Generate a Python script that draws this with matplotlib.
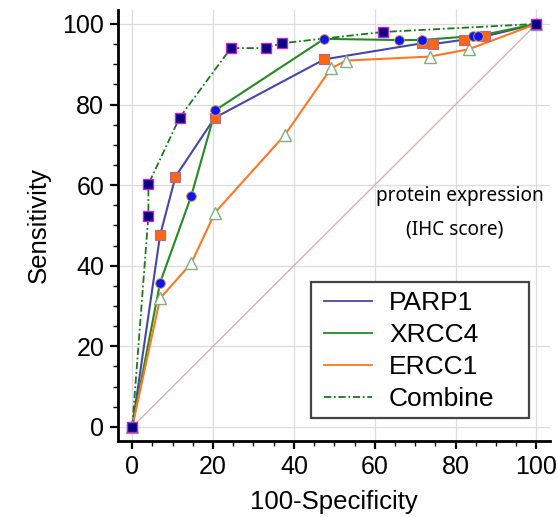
import matplotlib
matplotlib.use("Agg")
import matplotlib.pyplot as plt
from matplotlib.patches import Rectangle
from matplotlib.ticker import MultipleLocator

# ROC points (100-Specificity, Sensitivity)
parp1_x = [0, 6.9, 10.7, 20.4, 47.5, 71.7, 74.4, 82.2, 87.2, 100]
parp1_y = [0, 47.6, 62.1, 76.7, 91.2, 95.2, 95.0, 96.1, 96.9, 100]

xrcc4_x = [0, 6.9, 14.6, 20.6, 47.5, 65.9, 71.7, 84.3, 85.5, 100]
xrcc4_y = [0, 35.8, 57.3, 78.6, 96.3, 96.0, 96.0, 97.0, 97.0, 100]

ercc1_x = [0, 6.9, 14.6, 20.5, 37.8, 49.2, 53.0, 73.6, 83.2, 100]
ercc1_y = [0, 31.9, 40.6, 53.2, 72.5, 89.0, 90.9, 91.9, 93.7, 100]

combine_x = [0, 4.0, 4.0, 11.7, 24.4, 33.0, 37.0, 62.0, 100]
combine_y = [0, 52.4, 60.2, 76.7, 94.0, 94.0, 95.2, 98.0, 100]

ticks = [0, 20, 40, 60, 80, 100]

plt.rcParams['font.family'] = ['Liberation Sans', 'DejaVu Sans']

fig = plt.figure(figsize=(5.57, 5.17), dpi=100)
ax = fig.add_axes([0.212, 0.147, 0.775, 0.834])

ax.plot([0, 100], [0, 100], color='#d9a8a8', lw=0.9, zorder=1)

ax.plot(parp1_x, parp1_y, color='#4646aa', lw=1.5, label='PARP1', zorder=2)
ax.plot(xrcc4_x, xrcc4_y, color='#228b22', lw=1.5, label='XRCC4', zorder=2)
ax.plot(ercc1_x, ercc1_y, color='#ff7722', lw=1.5, label='ERCC1', zorder=2)
ax.plot(combine_x, combine_y, color='#1a7a1a', lw=1.3, ls=(0, (4, 1.5, 1, 1.5)),
        label='Combine', zorder=2)

# markers
ax.plot(ercc1_x, ercc1_y, ls='none', marker='^', ms=9, mfc='white', mec='#7fb27f',
        mew=1.0, zorder=3)
ax.plot(parp1_x, parp1_y, ls='none', marker='s', ms=7, mfc='#ff6610', mec='#b06a8a',
        mew=0.8, zorder=4)
ax.plot(xrcc4_x, xrcc4_y, ls='none', marker='o', ms=7, mfc='#0a14ff', mec='#d8a030',
        mew=0.7, zorder=5)
ax.plot(combine_x, combine_y, ls='none', marker='s', ms=7, mfc='#000080', mec='#d020d0',
        mew=1.0, zorder=6)

ax.set_xlim(-3.5, 103.3)
ax.set_ylim(-3.5, 103.5)
ax.set_xticks(ticks)
ax.set_yticks(ticks)
ax.xaxis.set_minor_locator(MultipleLocator(5))
ax.yaxis.set_minor_locator(MultipleLocator(5))
ax.tick_params(which='major', direction='out', length=6, width=1.6, labelsize=18, pad=4)
ax.tick_params(which='minor', direction='out', length=3.5, width=1.0)
ax.grid(True, which='major', color='#dcdcdc', lw=0.9)
ax.set_axisbelow(True)

for s in ['top', 'right']:
    ax.spines[s].set_visible(False)
for s in ['left', 'bottom']:
    ax.spines[s].set_linewidth(2.0)

ax.set_xlabel('100-Specificity', fontsize=18.5, labelpad=8)
ax.set_ylabel('Sensitivity', fontsize=18.5, labelpad=8)

ax.text(81.0, 57.3, 'protein expression', fontsize=13.7, family='Noto Sans',
        ha='center', va='center')
ax.text(79.8, 48.9, '(IHC score)', fontsize=13.7, family='Noto Sans',
        ha='center', va='center')

# legend box drawn separately so it can be wider than its entries
ax.add_patch(Rectangle((0.446, 0.053), 0.505, 0.316, transform=ax.transAxes,
                       facecolor='white', edgecolor='#444444', lw=1.6, zorder=7))
leg = ax.legend(loc='upper left', bbox_to_anchor=(0.476, 0.348), fontsize=19,
                frameon=False, handlelength=1.85, labelspacing=0.31,
                borderpad=0, borderaxespad=0, handletextpad=0.63)
leg.set_zorder(8)
for line in leg.get_lines():
    line.set_linewidth(1.3)

fig.savefig('out.png', dpi=100)
